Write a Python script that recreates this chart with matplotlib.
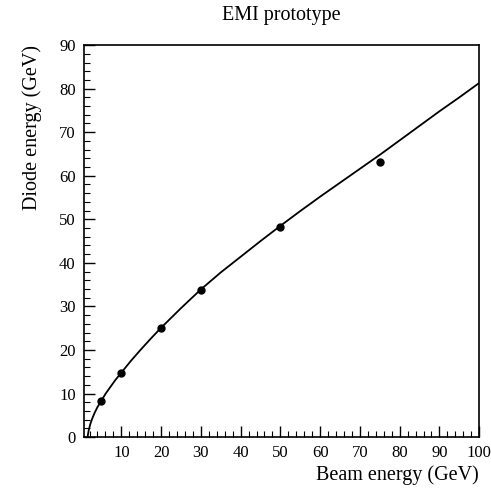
import matplotlib
matplotlib.use('Agg')
import matplotlib.pyplot as plt
from matplotlib.ticker import MultipleLocator

plt.rcParams['font.family'] = ['Liberation Serif', 'DejaVu Serif']

# measured points
beam = [5, 10, 20, 30, 50, 75]
diode = [8.3, 14.7, 25.0, 33.8, 48.3, 63.2]

# fitted curve
curve_x = [1.5, 1.8, 2.2, 2.7, 3.3, 4, 5, 6, 7, 8.5, 10, 12.5, 15, 17.5, 20, 25, 30, 35,
           40, 45, 50, 55, 60, 67.5, 75, 82.5, 90, 95, 100]
curve_y = [0.0, 1.6, 3.0, 4.3, 5.6, 6.9, 8.4, 9.9, 11.2, 13.1, 14.8, 17.6, 20.2, 22.7, 25.1,
           29.6, 33.9, 37.8, 41.4, 45.0, 48.5, 51.9, 55.2, 60.0, 64.8, 69.8, 74.8, 78.0, 81.3]

fig = plt.figure(figsize=(4.91, 4.90), dpi=100)
ax = fig.add_axes([0.171, 0.108, 0.805, 0.800])

ax.plot(curve_x, curve_y, color='black', linewidth=1.3)
ax.plot(beam, diode, 'o', color='black', markersize=5)

ax.set_xlim(0.6, 100)
ax.set_ylim(0, 90)
ax.set_xticks(range(10, 101, 10))
ax.set_yticks(range(0, 91, 10))
ax.xaxis.set_minor_locator(MultipleLocator(2))
ax.yaxis.set_minor_locator(MultipleLocator(2))
ax.tick_params(which='major', direction='in', length=8, width=1, labelsize=12, pad=6)
ax.tick_params(which='minor', direction='in', length=4, width=0.8)
for s in ax.spines.values():
    s.set_linewidth(1.2)

ax.set_title('EMI prototype', fontsize=14.5, pad=18)
ax.set_xlabel('Beam energy (GeV)', fontsize=14.5, loc='right', labelpad=3)
ax.set_ylabel('Diode energy (GeV)', fontsize=14.5, loc='top', labelpad=12)

fig.savefig('out.png', dpi=100)
